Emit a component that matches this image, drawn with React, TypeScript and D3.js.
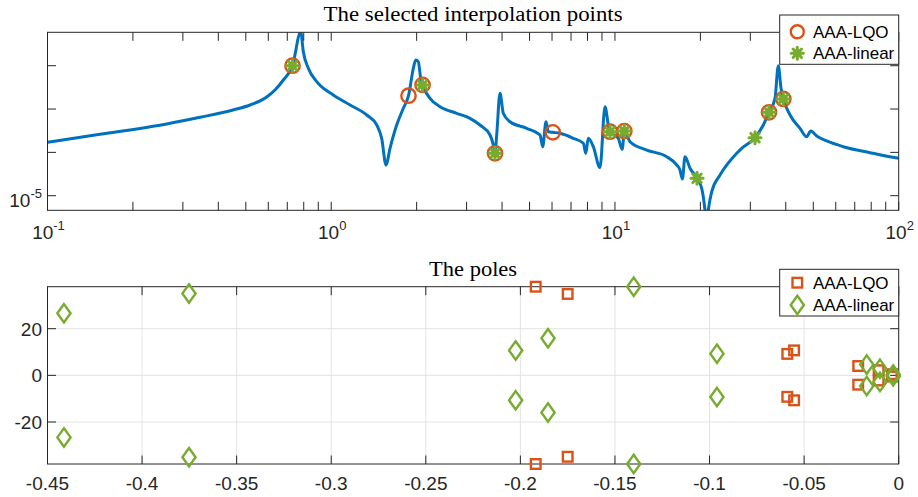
import React from 'react';
import * as d3 from 'd3';

// ---------- data: frequency response magnitude ----------
const freq = [
  0.1, 0.1531, 0.2631, 0.3447, 0.4506, 0.5173, 0.5924, 0.6335, 0.6779, 0.7304, 0.7807, 0.7974, 0.8303,
  0.8888, 1.017, 1.165, 1.334, 1.447, 1.506, 1.56, 1.611, 1.701, 1.795,
  1.872, 1.947, 1.985, 2.027, 2.067, 2.098, 2.229, 2.418, 2.768, 3.084,
  3.344, 3.628, 3.726, 3.778, 3.83, 3.934, 4.041, 4.267, 4.886, 5.443,
  5.563, 5.714, 5.823, 6.039, 6.402, 7.134, 7.737, 7.889, 8.054, 8.388,
  8.856, 9.224, 9.475, 9.605, 10.27, 10.61, 10.79, 11.3, 12.94, 15.22,
  16.51, 16.95, 17.28, 17.66, 18.39, 19.46, 20.22, 20.76, 21.02, 21.33,
  21.93, 23.46, 26.86, 27.97, 31.16, 33.33, 34.91, 36.65, 37.64, 38.48,
  39.21, 41.4, 44.89, 47.39, 48.96, 51.41, 55.77, 63.79, 79.21, 100,
];
const mag = [
  1.71e-4, 2.61e-4, 4.52e-4, 6.45e-4, 9.5e-4, 1.24e-3, 1.9e-3, 2.75e-3, 4.68e-3, 1.0e-2, 6.0e-2, 2.1e-2, 8.7e-3,
  4.28e-3, 2.11e-3, 1.24e-3, 7.29e-4, 4.28e-4, 2.11e-4, 5.11e-5, 1.24e-4, 4.28e-4, 1.04e-3,
  2.03e-3, 8.7e-3, 1.35e-2, 1.24e-2, 5.12e-3, 3.6e-3, 1.77e-3, 1.13e-3, 7.97e-4, 6.11e-4,
  4.28e-4, 2.52e-4, 1.48e-4, 9.52e-5, 2.52e-4, 2.31e-3, 7.97e-4, 5.1e-4, 3.59e-4, 2.52e-4,
  1.35e-4, 5.1e-4, 3.0e-4, 2.9e-4, 2.75e-4, 2.11e-4, 1.62e-4, 9.52e-5, 2.11e-4, 1.35e-4,
  4.43e-5, 1.13e-3, 4.28e-4, 3.0e-4, 2.11e-4, 1.18e-4, 3.1e-4, 1.76e-4, 1.13e-4, 7.94e-5,
  5.11e-5, 3.92e-5, 2.43e-5, 7.94e-5, 4.29e-5, 2.52e-5, 1.48e-5, 4.68e-6, 2.0e-6, 4.68e-6,
  1.24e-5, 3.0e-5, 9.52e-5, 1.24e-4, 2.18e-4, 4.28e-4, 8.41e-4, 1.77e-3, 1.0e-2, 3.01e-3,
  1.71e-3, 7.29e-4, 3.59e-4, 2.3e-4, 3.11e-4, 2.39e-4, 1.83e-4, 1.35e-4, 9.83e-5, 7.3e-5,
];

// interpolation points
const lqoFreq = [0.7304, 1.872, 2.098, 3.778, 6.039, 9.605, 10.79, 34.91, 39.21];
const lqoMag = [1.0e-2, 2.03e-3, 3.6e-3, 9.52e-5, 2.9e-4, 3.0e-4, 3.1e-4, 8.41e-4, 1.71e-3];
const linFreq = [0.7304, 2.098, 3.778, 9.605, 10.79, 19.46, 31.16, 34.91, 39.21];
const linMag = [1.0e-2, 3.6e-3, 9.52e-5, 3.0e-4, 3.1e-4, 2.52e-5, 2.18e-4, 8.41e-4, 1.71e-3];

// poles
const poleLqoRe = [-0.1919, -0.1919, -0.175, -0.175, -0.0589, -0.0589, -0.0553, -0.0553, -0.0214, -0.0214, -0.0106, -0.0106, -0.0035, -0.0035];
const poleLqoIm = [38, -38, 34.9, -34.9, 9.2, -9.2, 10.7, -10.7, 4.0, -4.0, 2.2, -2.2, 0.5, -0.5];
const poleLinRe = [-0.4413, -0.4413, -0.3752, -0.3752, -0.2025, -0.2025, -0.1854, -0.1854, -0.1401, -0.1401, -0.0961, -0.0961, -0.0169, -0.0169, -0.0099, -0.0099, -0.0029, -0.0029];
const poleLinIm = [26.6, -26.6, 35.1, -35.1, 10.7, -10.7, 15.9, -15.9, 38, -38, 9.3, -9.3, 4.6, -4.6, 2.8, -2.8, 0.4, -0.4];

// ticks
const topXTicks = [0.1, 1, 10, 100];
const topXTickExp = ['-1', '0', '1', '2'];
const topYTicks = [1e-5, 1e-4, 1e-3, 1e-2];
const topYLabeled = [1e-5];
const topYLabelExp = ['-5'];
const botXTicks = [-0.45, -0.4, -0.35, -0.3, -0.25, -0.2, -0.15, -0.1, -0.05, 0];
const botXTickLabels = ['-0.45', '-0.4', '-0.35', '-0.3', '-0.25', '-0.2', '-0.15', '-0.1', '-0.05', '0'];
const botYTicks = [-20, 0, 20];
const botYTickLabels = ['-20', '0', '20'];

const titleTop = 'The selected interpolation points';
const titleBot = 'The poles';
const seriesNames = ['AAA-LQO', 'AAA-linear'];

// ---------- styling ----------
const BLUE = '#0072BD';
const ORANGE = '#D95319';
const GREEN = '#77AC30';
const AX = '#262626';
const GRID = '#e3e3e3';
const SANS = '"Liberation Sans", Arial, Helvetica, sans-serif';
const SERIF = '"Liberation Serif", "Times New Roman", serif';
const TICK = 8.5;
const TF = 19; // tick font
const SUP = 13; // superscript font

const W = 918, H = 497;
const L = 47.5, R = 898.7;
const topT = 32.3, topB = 210.3;
const botT = 286.7, botB = 464;

function Asterisk({ x, y }: { x: number; y: number }) {
  const r = 6;
  return (
    <g transform={`translate(${x},${y})`}>
      <circle r={4.3} fill={GREEN} />
      {[0, 45, 90, 135].map((a) => {
        const rad = (a * Math.PI) / 180;
        return (
          <line key={a} x1={-r * Math.cos(rad)} y1={-r * Math.sin(rad)} x2={r * Math.cos(rad)} y2={r * Math.sin(rad)}
            stroke={GREEN} strokeWidth={3} strokeLinecap="round" />
        );
      })}
    </g>
  );
}

function Square({ x, y }: { x: number; y: number }) {
  const s = 4.8;
  return <rect x={x - s} y={y - s} width={2 * s} height={2 * s} fill="none" stroke={ORANGE} strokeWidth={2.4} />;
}

function Diamond({ x, y }: { x: number; y: number }) {
  const w = 6.6, h = 9.2;
  return <path d={`M${x},${y - h}L${x + w},${y}L${x},${y + h}L${x - w},${y}Z`} fill="none" stroke={GREEN} strokeWidth={2.4} strokeLinejoin="miter" />;
}

export default function App() {
  const xTop = d3.scaleLog().domain([0.1, 100]).range([L, R]);
  const yTop = d3.scaleLog().domain([Math.pow(10, -5.337), Math.pow(10, -1.229)]).range([topB, topT]);
  const xBot = d3.scaleLinear().domain([-0.45, 0]).range([L, R]);
  const yBot = d3.scaleLinear().domain([-38, 38]).range([botB, botT]);

  const line = d3.line<number>().x((_, i) => xTop(freq[i])).y((_, i) => yTop(mag[i])).curve(d3.curveMonotoneX);
  const linePath = line(freq) || '';

  const minorTop: number[] = [];
  for (const dec of [0.1, 1, 10]) for (let k = 2; k <= 9; k++) minorTop.push(dec * k);

  return (
    <svg width={W} height={H} style={{ position: 'absolute', left: 0, top: 0, background: '#fff' }}>
      <defs>
        <clipPath id="clipTop">
          <rect x={L} y={topT} width={R - L} height={topB - topT} />
        </clipPath>
      </defs>

      {/* ================= TOP AXES ================= */}
      <text x={(L + R) / 2} y={21} textAnchor="middle" fontFamily={SERIF} fontSize={20} fill="#000"
        textLength={299} lengthAdjust="spacingAndGlyphs">{titleTop}</text>

      <path d={linePath} fill="none" stroke={BLUE} strokeWidth={3} strokeLinejoin="round" clipPath="url(#clipTop)" />

      {/* axes box */}
      <rect x={L} y={topT} width={R - L} height={topB - topT} fill="none" stroke={AX} strokeWidth={1} />
      {/* x ticks */}
      {[...topXTicks, ...minorTop].map((t, i) => (
        <g key={'tx' + i}>
          <line x1={xTop(t)} x2={xTop(t)} y1={topB} y2={topB - TICK} stroke={AX} strokeWidth={1} />
          <line x1={xTop(t)} x2={xTop(t)} y1={topT} y2={topT + TICK} stroke={AX} strokeWidth={1} />
        </g>
      ))}
      {topXTicks.map((t, i) => (
        <text key={'txl' + i} x={xTop(t) + 1} y={239} textAnchor="middle" fontFamily={SANS} fontSize={TF} fill={AX}>
          10<tspan fontSize={SUP} dy={-9}>{topXTickExp[i]}</tspan>
        </text>
      ))}
      {/* y ticks */}
      {topYTicks.map((t, i) => (
        <g key={'ty' + i}>
          <line x1={L} x2={L + TICK} y1={yTop(t)} y2={yTop(t)} stroke={AX} strokeWidth={1} />
          <line x1={R} x2={R - TICK} y1={yTop(t)} y2={yTop(t)} stroke={AX} strokeWidth={1} />
        </g>
      ))}
      {topYLabeled.map((t, i) => (
        <text key={'tyl' + i} x={42} y={yTop(t) + 11} textAnchor="end" fontFamily={SANS} fontSize={TF} fill={AX}>
          10<tspan fontSize={SUP} dy={-9}>{topYLabelExp[i]}</tspan>
        </text>
      ))}

      {/* markers */}
      {lqoFreq.map((f, i) => (
        <circle key={'lq' + i} cx={xTop(f)} cy={yTop(lqoMag[i])} r={7.2} fill="none" stroke={ORANGE} strokeWidth={2.4} />
      ))}
      {linFreq.map((f, i) => (
        <Asterisk key={'ln' + i} x={xTop(f)} y={yTop(linMag[i])} />
      ))}

      {/* legend top */}
      <rect x={779.7} y={15} width={R - 779.7} height={49.3} fill="#fff" stroke={AX} strokeWidth={1} />
      <circle cx={797.3} cy={31.7} r={6.5} fill="none" stroke={ORANGE} strokeWidth={2.4} />
      <text x={813} y={37.7} fontFamily={SANS} fontSize={17} fill="#000">{seriesNames[0]}</text>
      <Asterisk x={797.3} y={53.3} />
      <text x={813} y={59.3} fontFamily={SANS} fontSize={17} fill="#000">{seriesNames[1]}</text>

      {/* ================= BOTTOM AXES ================= */}
      <text x={(L + R) / 2} y={276} textAnchor="middle" fontFamily={SERIF} fontSize={20} fill="#000"
        textLength={88} lengthAdjust="spacingAndGlyphs">{titleBot}</text>

      {/* grid */}
      {botXTicks.map((t, i) => (
        <line key={'gx' + i} x1={xBot(t)} x2={xBot(t)} y1={botT} y2={botB} stroke={GRID} strokeWidth={1} />
      ))}
      {botYTicks.map((t, i) => (
        <line key={'gy' + i} x1={L} x2={R} y1={yBot(t)} y2={yBot(t)} stroke={GRID} strokeWidth={1} />
      ))}

      <rect x={L} y={botT} width={R - L} height={botB - botT} fill="none" stroke={AX} strokeWidth={1} />
      {botXTicks.map((t, i) => (
        <g key={'bx' + i}>
          <line x1={xBot(t)} x2={xBot(t)} y1={botB} y2={botB - TICK} stroke={AX} strokeWidth={1} />
          <line x1={xBot(t)} x2={xBot(t)} y1={botT} y2={botT + TICK} stroke={AX} strokeWidth={1} />
          <text x={xBot(t)} y={490} textAnchor="middle" fontFamily={SANS} fontSize={TF} fill={AX}>{botXTickLabels[i]}</text>
        </g>
      ))}
      {botYTicks.map((t, i) => (
        <g key={'by' + i}>
          <line x1={L} x2={L + TICK} y1={yBot(t)} y2={yBot(t)} stroke={AX} strokeWidth={1} />
          <line x1={R} x2={R - TICK} y1={yBot(t)} y2={yBot(t)} stroke={AX} strokeWidth={1} />
          <text x={42} y={yBot(t) + 7} textAnchor="end" fontFamily={SANS} fontSize={TF} fill={AX}>{botYTickLabels[i]}</text>
        </g>
      ))}

      {poleLqoRe.map((re, i) => (
        <Square key={'pq' + i} x={xBot(re)} y={yBot(poleLqoIm[i])} />
      ))}
      {poleLinRe.map((re, i) => (
        <Diamond key={'pl' + i} x={xBot(re)} y={yBot(poleLinIm[i])} />
      ))}

      {/* legend bottom */}
      <rect x={779.7} y={269.3} width={R - 779.7} height={46.7} fill="#fff" stroke={AX} strokeWidth={1} />
      <Square x={797.3} y={282.7} />
      <text x={813} y={288.7} fontFamily={SANS} fontSize={17} fill="#000">{seriesNames[0]}</text>
      <Diamond x={797.3} y={305} />
      <text x={813} y={311} fontFamily={SANS} fontSize={17} fill="#000">{seriesNames[1]}</text>
    </svg>
  );
}
